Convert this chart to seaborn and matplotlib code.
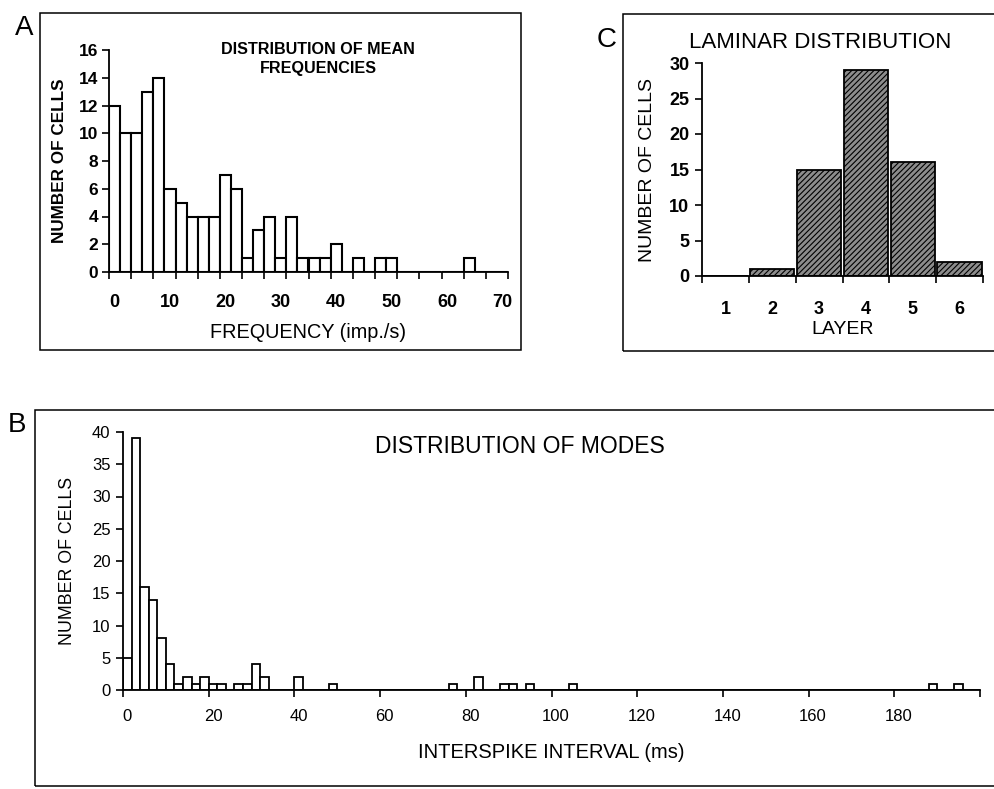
import matplotlib
matplotlib.use("Agg")
import matplotlib.pyplot as plt
import seaborn as sns
import pandas as pd
from matplotlib.patches import Rectangle

# ---------------- data ----------------
freq_bins = [0, 2, 4, 6, 8, 10, 12, 14, 16, 18, 20, 22, 24, 26, 28, 30, 32, 34,
             36, 38, 40, 42, 44, 46, 48, 50, 52, 54, 56, 58, 60, 62, 64, 66, 68, 70]
freq_counts = [12, 10, 10, 13, 14, 6, 5, 4, 4, 4, 7, 6, 1, 3, 4, 1, 4, 1,
               1, 1, 2, 0, 1, 0, 1, 1, 0, 0, 0, 0, 0, 0, 1, 0, 0, 0]
freq_tick_labels = ["0", "10", "20", "30", "40", "50", "60", "70"]

isi_bins = [0, 2, 4, 6, 8, 10, 12, 14, 16, 18, 20, 22, 24, 26, 28, 30, 32, 34, 36, 38,
            40, 42, 44, 46, 48, 50, 52, 54, 56, 58, 60, 62, 64, 66, 68, 70, 72, 74, 76, 78,
            80, 82, 84, 86, 88, 90, 92, 94, 96, 98, 100, 102, 104, 106, 108, 110, 112, 114, 116, 118,
            120, 122, 124, 126, 128, 130, 132, 134, 136, 138, 140, 142, 144, 146, 148, 150, 152, 154, 156, 158,
            160, 162, 164, 166, 168, 170, 172, 174, 176, 178, 180, 182, 184, 186, 188, 190, 192, 194, 196, 198]
isi_counts = [5, 39, 16, 14, 8, 4, 1, 2, 1, 2, 1, 1, 0, 1, 1, 4, 2, 0, 0, 0,
              2, 0, 0, 0, 1, 0, 0, 0, 0, 0, 0, 0, 0, 0, 0, 0, 0, 0, 1, 0,
              0, 2, 0, 0, 1, 1, 0, 1, 0, 0, 0, 0, 1, 0, 0, 0, 0, 0, 0, 0,
              0, 0, 0, 0, 0, 0, 0, 0, 0, 0, 0, 0, 0, 0, 0, 0, 0, 0, 0, 0,
              0, 0, 0, 0, 0, 0, 0, 0, 0, 0, 0, 0, 0, 0, 1, 0, 0, 1, 0, 0]
isi_tick_labels = ["0", "20", "40", "60", "80", "100", "120", "140", "160", "180"]

layers = ["1", "2", "3", "4", "5", "6"]
layer_counts = [0, 1, 15, 29, 16, 2]

# ---------------- style ----------------
sns.set_style("ticks")
plt.rcParams["font.family"] = ["Liberation Sans", "DejaVu Sans"]
plt.rcParams["axes.linewidth"] = 1.3
plt.rcParams["hatch.linewidth"] = 0.8
plt.rcParams["text.color"] = "black"
plt.rcParams["axes.labelcolor"] = "black"
plt.rcParams["xtick.color"] = "black"
plt.rcParams["ytick.color"] = "black"

W, H = 994, 789
fig = plt.figure(figsize=(W / 100, H / 100), dpi=100)


def fx(px):
    return px / W


def fy(py):
    return 1 - py / H


def axes_px(l, t, r, b):
    return fig.add_axes([fx(l), fy(b), fx(r) - fx(l), fy(t) - fy(b)])


def style_axes(ax):
    for s in ["top", "right"]:
        ax.spines[s].set_visible(False)
    ax.spines["left"].set_color("black")
    ax.spines["bottom"].set_color("black")
    ax.tick_params(axis="both", which="both", direction="out", color="black",
                   width=1.2, labelcolor="black")


def place_labels(ax, box, xlab_y, ylab_x):
    l, t, r, b = box
    ax.xaxis.set_label_coords(0.5, (b - xlab_y) / (b - t))
    ax.xaxis.label.set_va("center")
    ax.yaxis.set_label_coords((ylab_x - l) / (r - l), 0.5)
    ax.yaxis.label.set_va("center")


# frame boxes
for (l, t, r, b) in [(40, 13, 521, 350), (623, 14, 1000, 351), (35, 410, 1000, 786)]:
    fig.add_artist(Rectangle((fx(l), fy(b)), fx(r) - fx(l), fy(t) - fy(b),
                             transform=fig.transFigure, fill=False,
                             edgecolor="black", linewidth=1.1))

# ---------------- panel A ----------------
boxA = (109, 50, 508, 272)
axA = axes_px(*boxA)
dfA = pd.DataFrame({"freq": freq_bins, "count": freq_counts})
sns.barplot(data=dfA, x="freq", y="count", ax=axA, color="white", edgecolor="black",
            linewidth=1.5, width=1.0, saturation=1)
style_axes(axA)
nA = len(freq_bins)
axA.set_xlim(-0.5, nA - 0.5)
axA.set_ylim(0, 16)
axA.set_yticks(range(0, 17, 2))
axA.set_yticklabels([str(v) for v in range(0, 17, 2)], fontsize=12.5, fontweight="bold")
axA.set_xticks([i for i in range(0, nA, 5)])
axA.set_xticklabels(freq_tick_labels, fontsize=13, fontweight="bold")
axA.set_xticks([i - 0.5 for i in range(0, nA + 1, 2)], minor=True)
axA.tick_params(axis="x", which="major", length=0, pad=22)
axA.tick_params(axis="x", which="minor", length=5)
axA.tick_params(axis="y", length=5, pad=3)
for lab in axA.get_xticklabels():
    lab.set_va("center")
axA.set_xlabel("FREQUENCY (imp./s)", fontsize=14.3)
axA.set_ylabel("NUMBER OF CELLS", fontsize=12.3, fontweight="bold")
place_labels(axA, boxA, 332, 60)
fig.text(fx(318), fy(59), "DISTRIBUTION OF MEAN\nFREQUENCIES", ha="center", va="center",
         fontsize=11.6, fontweight="bold", linespacing=1.4)
fig.text(fx(24), fy(28), "A", ha="center", va="center", fontsize=20)

# ---------------- panel C ----------------
boxC = (702, 63, 983, 276)
axC = axes_px(*boxC)
dfC = pd.DataFrame({"layer": layers, "count": layer_counts})
sns.barplot(data=dfC, x="layer", y="count", ax=axC, color="#8c8c8c", edgecolor="black",
            linewidth=1.3, width=0.95, saturation=1, hatch="//////")
style_axes(axC)
axC.set_xlim(-0.5, len(layers) - 0.5)
axC.set_ylim(0, 30)
axC.set_yticks(range(0, 31, 5))
axC.set_yticklabels([str(v) for v in range(0, 31, 5)], fontsize=13, fontweight="bold")
axC.set_xticks(range(len(layers)))
axC.set_xticklabels(layers, fontsize=13, fontweight="bold")
axC.set_xticks([i - 0.5 for i in range(len(layers) + 1)], minor=True)
axC.tick_params(axis="x", which="major", length=0, pad=24)
axC.tick_params(axis="x", which="minor", length=5)
axC.tick_params(axis="y", length=5, pad=4)
for lab in axC.get_xticklabels():
    lab.set_va("center")
axC.set_xlabel("LAYER", fontsize=14)
axC.set_ylabel("NUMBER OF CELLS", fontsize=14)
place_labels(axC, boxC, 330, 648)
fig.text(fx(820), fy(43), "LAMINAR DISTRIBUTION", ha="center", va="center", fontsize=16)
fig.text(fx(607), fy(40), "C", ha="center", va="center", fontsize=20)

# ---------------- panel B ----------------
boxB = (123, 432, 980, 690)
axB = axes_px(*boxB)
dfB = pd.DataFrame({"isi": isi_bins, "count": isi_counts})
sns.barplot(data=dfB, x="isi", y="count", ax=axB, color="white", edgecolor="black",
            linewidth=1.3, width=1.0, saturation=1)
style_axes(axB)
nB = len(isi_bins)
axB.set_xlim(-0.5, nB - 0.5)
axB.set_ylim(0, 40)
axB.set_yticks(range(0, 41, 5))
axB.set_yticklabels([str(v) for v in range(0, 41, 5)], fontsize=12)
axB.set_xticks([i for i in range(0, nB, 10)])
axB.set_xticklabels(isi_tick_labels, fontsize=12)
axB.set_xticks([i - 0.5 for i in range(0, nB + 1, 10)], minor=True)
axB.tick_params(axis="x", which="major", length=0, pad=19)
axB.tick_params(axis="x", which="minor", length=5)
axB.tick_params(axis="y", length=5, pad=4)
for lab in axB.get_xticklabels():
    lab.set_va("center")
axB.set_xlabel("INTERSPIKE INTERVAL (ms)", fontsize=14.5)
axB.set_ylabel("NUMBER OF CELLS", fontsize=12.8)
place_labels(axB, boxB, 752, 68)
fig.text(fx(520), fy(447), "DISTRIBUTION OF MODES", ha="center", va="center", fontsize=16.5)
fig.text(fx(17), fy(425), "B", ha="center", va="center", fontsize=20)

fig.savefig("out.png", dpi=100)
